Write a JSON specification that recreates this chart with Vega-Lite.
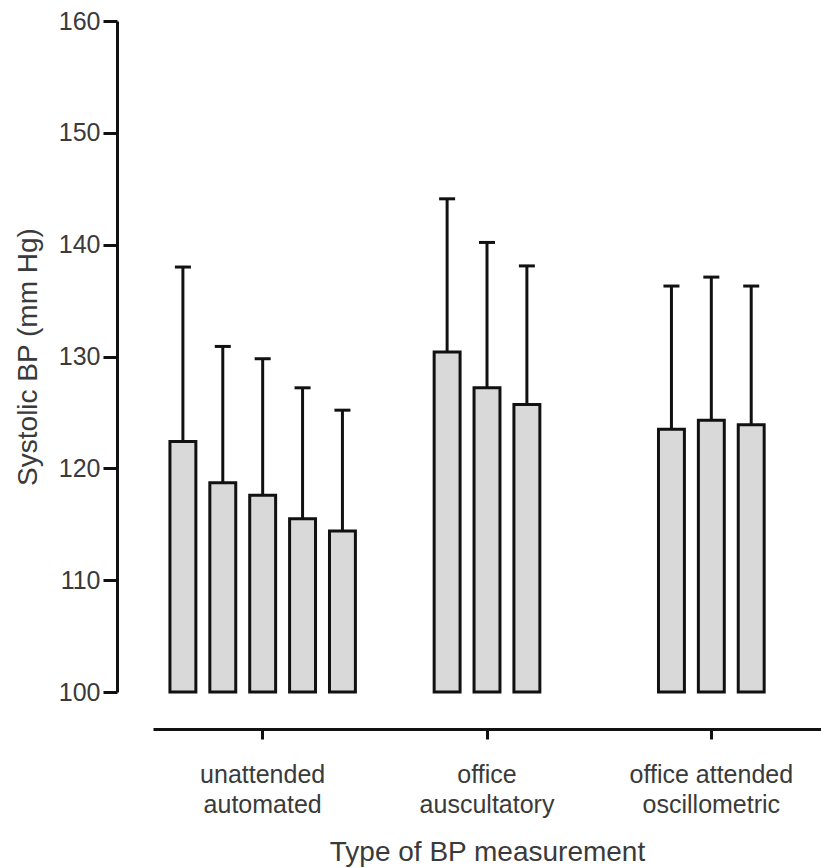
{
  "$schema": "https://vega.github.io/schema/vega-lite/v6.json",
  "width": 668,
  "height": 671,
  "autosize": {"type": "none"},
  "padding": {"left": 153, "top": 21, "right": 0, "bottom": 176},
  "background": "white",
  "config": {
    "view": {"stroke": null},
    "font": "Liberation Sans",
    "axis": {
      "labelFont": "Liberation Sans",
      "titleFont": "Liberation Sans",
      "labelColor": "#3a3a3a",
      "titleColor": "#3a3a3a",
      "titleFontWeight": "normal",
      "domainColor": "#111111",
      "tickColor": "#111111",
      "domainWidth": 3,
      "tickWidth": 3,
      "grid": false
    }
  },
  "data": {
    "values": [
      {"type": "unattended|automated", "slot": "1", "mean": 122.4, "upper": 138.0},
      {"type": "unattended|automated", "slot": "2", "mean": 118.7, "upper": 130.9},
      {"type": "unattended|automated", "slot": "3", "mean": 117.6, "upper": 129.8},
      {"type": "unattended|automated", "slot": "4", "mean": 115.5, "upper": 127.2},
      {"type": "unattended|automated", "slot": "5", "mean": 114.4, "upper": 125.2},
      {"type": "office|auscultatory", "slot": "2", "mean": 130.4, "upper": 144.1},
      {"type": "office|auscultatory", "slot": "3", "mean": 127.2, "upper": 140.2},
      {"type": "office|auscultatory", "slot": "4", "mean": 125.7, "upper": 138.1},
      {"type": "office attended|oscillometric", "slot": "2", "mean": 123.5, "upper": 136.3},
      {"type": "office attended|oscillometric", "slot": "3", "mean": 124.3, "upper": 137.1},
      {"type": "office attended|oscillometric", "slot": "4", "mean": 123.9, "upper": 136.3}
    ]
  },
  "encoding": {
    "x": {
      "field": "type",
      "type": "nominal",
      "sort": null,
      "title": "Type of BP measurement",
      "scale": {"paddingInner": 0.111, "paddingOuter": 0.0444},
      "axis": {
        "labelAngle": 0,
        "labelExpr": "split(datum.label, '|')",
        "labelFontSize": 25,
        "labelLineHeight": 30,
        "labelPadding": 23,
        "tickSize": 10,
        "offset": 37,
        "titleFontSize": 28,
        "titlePadding": 21
      }
    },
    "xOffset": {
      "field": "slot",
      "type": "nominal",
      "scale": {"domain": ["1", "2", "3", "4", "5"], "paddingInner": 0.35, "paddingOuter": 0.175}
    }
  },
  "layer": [
    {
      "mark": {"type": "bar", "fill": "#d9d9d9", "stroke": "#111111", "strokeWidth": 3},
      "encoding": {
        "y": {
          "field": "mean",
          "type": "quantitative",
          "title": "Systolic BP (mm Hg)",
          "scale": {"domain": [100, 160], "zero": false, "nice": false},
          "axis": {
            "values": [100, 110, 120, 130, 140, 150, 160],
            "labelFontSize": 25,
            "labelPadding": 3,
            "tickSize": 14,
            "offset": 36,
            "titleFontSize": 28,
            "titlePadding": 16
          }
        },
        "y2": {"datum": 100}
      }
    },
    {
      "mark": {"type": "rule", "stroke": "#111111", "strokeWidth": 3},
      "encoding": {
        "y": {"field": "mean", "type": "quantitative"},
        "y2": {"field": "upper"}
      }
    },
    {
      "mark": {"type": "tick", "color": "#111111", "size": 16, "thickness": 3, "opacity": 1},
      "encoding": {
        "y": {"field": "upper", "type": "quantitative"}
      }
    }
  ]
}
